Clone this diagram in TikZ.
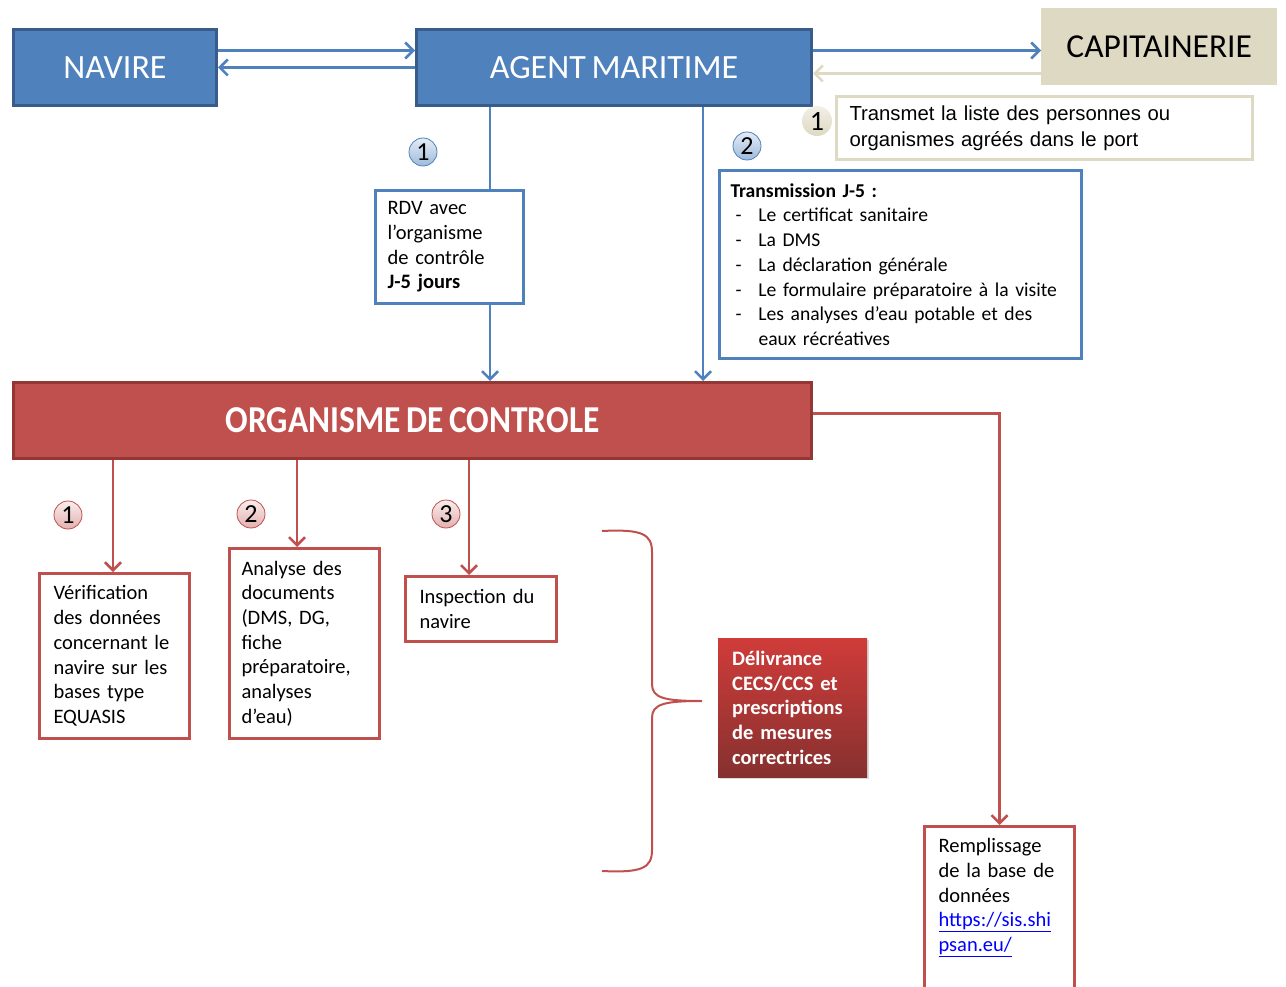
\documentclass[tikz,border=0pt]{standalone}
\usepackage{fontspec}
\setmainfont{Carlito}[WordSpace=0.75]
\newfontfamily\arialfont{Liberation Sans}
\usetikzlibrary{arrows.meta, shadows}

\definecolor{agentblue}{HTML}{4F81BD}
\definecolor{agentdark}{HTML}{385D8A}
\definecolor{captan}{HTML}{DDD9C3}
\definecolor{ctrlred}{HTML}{C0504D}
\definecolor{ctrldark}{HTML}{943634}
\definecolor{linkblue}{HTML}{0000FF}

\begin{document}
\begin{tikzpicture}[x=1pt, y=-1pt, font=\fontsize{20.5}{24.7}\selectfont,
  topbox/.style={draw=agentdark, fill=agentblue, line width=3pt, text=white,
    font=\fontsize{34}{40}\selectfont, anchor=north west, inner sep=0pt},
  capbox/.style={fill=captan, font=\fontsize{33.5}{40}\selectfont, anchor=north west, inner sep=0pt},
  notebox/.style={draw=captan, fill=white, line width=3pt, anchor=north west, align=left,
    inner xsep=13pt, font=\arialfont\fontsize{20.3}{26}\selectfont},
  bluelist/.style={draw=agentblue, fill=white, line width=3pt, anchor=north west, align=left,
    inner xsep=12pt, inner ysep=0pt},
  redlist/.style={draw=ctrlred, fill=white, line width=3pt, anchor=north west, align=left,
    inner xsep=14pt, inner ysep=0pt},
  ctrlbox/.style={draw=ctrldark, fill=ctrlred, line width=3pt, text=white, anchor=north west,
    inner sep=0pt, font=\bfseries\fontsize{38}{40}\selectfont},
  decisionbox/.style={top color=ctrlred!75!red, bottom color=ctrldark!90!black, text=white,
    drop shadow={shadow xshift=2pt, shadow yshift=-2pt, opacity=0.3}, anchor=north west,
    align=left, inner xsep=14pt, inner ysep=0pt, font=\bfseries\fontsize{20.5}{24.7}\selectfont},
  numblue/.style={circle, draw=agentblue, line width=0.8pt, top color=agentblue!15,
    bottom color=agentblue!55, minimum size=28pt, inner sep=0pt, font=\fontsize{26}{26}\selectfont},
  numred/.style={circle, draw=ctrlred, line width=0.8pt, top color=ctrlred!10,
    bottom color=ctrlred!45, minimum size=28pt, inner sep=0pt, font=\fontsize{26}{26}\selectfont},
  numtan/.style={circle, top color=captan!40, bottom color=captan, minimum size=30pt,
    inner sep=0pt, font=\fontsize{28}{28}\selectfont},
  bluearrow/.style={draw=agentblue, line width=2.5pt, -{Straight Barb[length=8pt,width=16pt]}},
  tanarrow/.style={draw=captan, line width=2.5pt, -{Straight Barb[length=8pt,width=16pt]}},
  redarrow/.style={draw=ctrlred, line width=2.5pt, -{Straight Barb[length=8pt,width=16pt]}},
  redline/.style={draw=ctrlred, line width=2.5pt}]

% Page size
\useasboundingbox (0,0) rectangle (1286,987);

% Top row
\node[topbox, minimum width=203pt, minimum height=76pt] (navire) at (12,28) {NAVIRE};
\node[topbox, minimum width=395pt, minimum height=76pt] (agent) at (415,28) {AGENT MARITIME};
\node[capbox, minimum width=236pt, minimum height=77pt] (capit) at (1041,8) {CAPITAINERIE};

% Navire <-> agent
\draw[bluearrow] ([yshift=17pt]navire.east) -- ([yshift=17pt]agent.west);
\draw[bluearrow] (agent.west) -- (navire.east);

% Agent <-> capitainerie
\draw[bluearrow] ([yshift=17pt]agent.east) -- ([yshift=17pt]agent.east -| capit.west);
\draw[tanarrow] ([yshift=-6pt]agent.east -| capit.west) -- ([yshift=-6pt]agent.east);

% Note from capitainerie
\node[notebox, text width=390pt, minimum height=63pt] (note) at (835,95)
  {Transmet la liste des personnes ou\\organismes agréés dans le port};
\node[numtan] (n0) at (817,121) {1};

% Step 1 : rendez-vous
\coordinate (a1) at (490,0);
\coordinate (a2) at (703,0);
\node[bluelist, text width=124pt, minimum height=113pt] (rdv) at (374,189)
  {RDV avec\\l’organisme\\de contrôle\\\textbf{J-5 jours}};
\node[numblue] (n1) at (423,152) {1};
\draw[redline, draw=agentblue] (agent.south -| a1) -- (rdv.north -| a1);

% Step 2 : documents
\node[bluelist, inner xsep=11pt, text width=340pt, minimum height=188pt,
  font=\fontsize{19.6}{24.7}\selectfont] (trans) at (718,169)
  {\textbf{Transmission J-5 :}\\
   \makebox[28pt][l]{\hspace{5pt}-}Le certificat sanitaire\\
   \makebox[28pt][l]{\hspace{5pt}-}La DMS\\
   \makebox[28pt][l]{\hspace{5pt}-}La déclaration générale\\
   \makebox[28pt][l]{\hspace{5pt}-}\mbox{Le formulaire préparatoire à la visite}\\
   \makebox[28pt][l]{\hspace{5pt}-}Les analyses d’eau potable et des\\
   \hspace*{28pt}eaux récréatives};
\node[numblue] (n2) at (747,146) {2};

% Organisme de controle
\node[ctrlbox, minimum width=798pt, minimum height=76pt] (ctrl) at (12,381)
  {\scalebox{0.88}[1]{ORGANISME DE CONTROLE}};
\draw[bluearrow] (rdv.south -| a1) -- (ctrl.north -| a1);
\draw[bluearrow] (agent.south -| a2) -- (ctrl.north -| a2);

% Control tasks
\coordinate (b1) at (113,0);
\coordinate (b2) at (297,0);
\coordinate (b3) at (469,0);
\node[redlist, text width=122pt, minimum height=165pt] (verif) at (38,572)
  {Vérification\\des données\\concernant le\\navire sur les\\bases type\\EQUASIS};
\node[redlist, inner xsep=12pt, text width=126pt, minimum height=190pt] (analyse) at (228,547)
  {Analyse des\\documents\\(DMS, DG,\\fiche\\préparatoire,\\analyses\\d’eau)};
\node[redlist, text width=123pt, minimum height=65pt] (inspect) at (404,575)
  {Inspection du\\navire};
\node[numred] (r1) at (68,515) {1};
\node[numred] (r2) at (251,514) {2};
\node[numred] (r3) at (446,514) {3};
\draw[redarrow] (ctrl.south -| b1) -- (verif.north -| b1);
\draw[redarrow] (ctrl.south -| b2) -- (analyse.north -| b2);
\draw[redarrow] (ctrl.south -| b3) -- (inspect.north -| b3);

% Brace and outcome
\draw[redline, line width=2pt] (602,531) .. controls (642,529) and (652,534) .. (652,552)
  -- (652,684) .. controls (652,698) and (664,701) .. (702,701)
  .. controls (664,701) and (652,704) .. (652,718)
  -- (652,850) .. controls (652,868) and (642,873) .. (602,871);
\node[decisionbox, text width=121pt, minimum height=139pt] (deliv) at (718,638)
  {Délivrance\\CECS/CCS et\\prescriptions\\de mesures\\correctrices};

% Database
\node[redlist, text width=122pt, inner ysep=12pt, text depth=150pt] (rempl) at (923,825)
  {Remplissage\\de la base de\\données\\\textcolor{linkblue}{\underline{https://sis.shi}}\\\textcolor{linkblue}{\underline{psan.eu/}}};
\draw[redarrow] ([yshift=7pt]ctrl.east) -| (rempl.north);

\end{tikzpicture}
\end{document}
